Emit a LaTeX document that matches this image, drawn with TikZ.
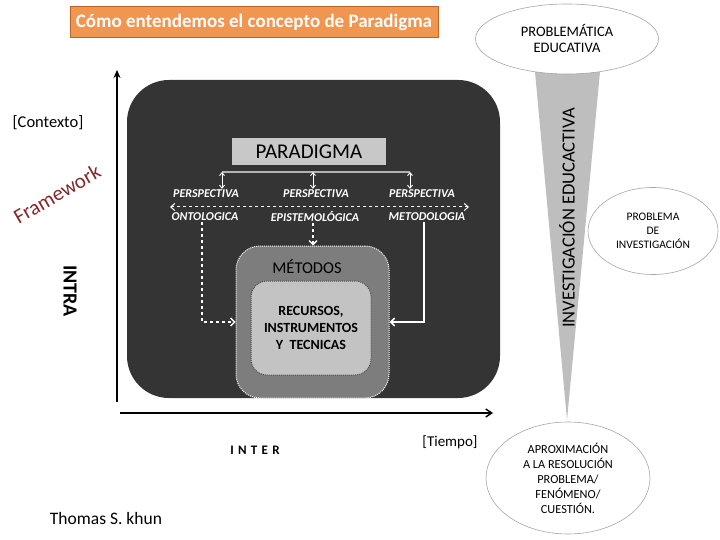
\documentclass[tikz,border=0pt]{standalone}
\usepackage{fontspec}
\setmainfont{Carlito}
\usetikzlibrary{arrows.meta,shapes.geometric}
\definecolor{titleor}{RGB}{240,150,80}
\definecolor{titleedge}{RGB}{190,100,40}
\definecolor{darkbox}{RGB}{52,52,52}
\definecolor{paragray}{RGB}{200,200,200}
\definecolor{metgray}{RGB}{125,125,125}
\definecolor{recgray}{RGB}{195,195,195}
\definecolor{fwred}{RGB}{130,40,40}
\definecolor{funnel}{RGB}{190,190,190}
\tikzset{
  persp/.style={text=white,font=\fontsize{12}{14}\selectfont\bfseries\itshape,inner sep=1pt},
  oval/.style={ellipse,draw=gray!70,fill=white,line width=0.6pt,align=center,inner sep=0pt},
}
\begin{document}
\begin{tikzpicture}[x=1pt,y=-1pt]
\useasboundingbox (0,0) rectangle (720,540);
% title
\node[draw=titleedge,fill=titleor,line width=1pt,minimum width=368pt,minimum height=31pt,text=white,font=\fontsize{19}{22}\selectfont\bfseries] (title) at (254,22.5) {Cómo entendemos el concepto de Paradigma};
% axes
\coordinate (o) at (117,402);
\coordinate (ytop) at (117,70);
\coordinate (xs) at (120,413);
\coordinate (xend) at (493,413);
\draw[line width=1.6pt,-{Stealth[length=8pt,width=7pt]}] (o) -- (ytop);
\draw[line width=1.4pt,-{Straight Barb[length=6pt,width=8pt]}] (xs) -- (xend);
% labels left
\node[font=\fontsize{16.5}{18}\selectfont] (ctx) at (48,123) {[Contexto]};
\node[text=fwred,rotate=30,font=\fontsize{21}{24}\selectfont] (fw) at (57,194) {Framework};
\node[rotate=-90,font=\fontsize{20}{22}\selectfont\bfseries] (intra) at (70,291) {INTRA};
\node[font=\fontsize{13}{16}\selectfont\bfseries] (inter) at (255,450) {I\,\,N\,\,T\,\,E\,\,R};
\node[font=\fontsize{15}{18}\selectfont] (tiempo) at (450,442) {[Tiempo]};
\node[font=\fontsize{17.5}{20}\selectfont] (thomas) at (106,518) {Thomas S. khun};
% dark box
\node[fill=darkbox,rounded corners=42pt,minimum width=373pt,minimum height=318pt,inner sep=0pt] (dark) at (313.5,239) {};
% paradigma
\node[fill=paragray,minimum width=154pt,minimum height=27pt,inner sep=0pt,font=\fontsize{21}{22}\selectfont] (para) at (309,151.5) {PARADIGMA};
\coordinate (b1) at (222,172);
\coordinate (b2) at (313,172);
\coordinate (b3) at (410,172);
\draw[draw=gray!60,line width=2pt] (b1) -- (b3);
\node[persp] (p1) at (206,194) {PERSPECTIVA};
\node[persp] (p2) at (316,194) {PERSPECTIVA};
\node[persp] (p3) at (422,194) {PERSPECTIVA};
\foreach \b/\p in {b1/p1,b2/p2,b3/p3}{
  \draw[white,line width=0.9pt,{Straight Barb[length=3pt,width=5pt]}-{Straight Barb[length=3pt,width=5pt]}] (\b) -- (\b |- \p.north);
}
\coordinate (dl) at (170,207);
\coordinate (dr) at (469,207);
\draw[white,line width=1pt,dashed,{Straight Barb[length=4pt,width=7pt]}-{Straight Barb[length=4pt,width=7pt]}] (dl) -- (dr);
\node[persp] (o1) at (205,217) {ONTOLOGICA};
\node[persp] (o2) at (315,217) {EPISTEMOLÓGICA};
\node[persp] (o3) at (427,217) {METODOLOGIA};
% metodos
\node[fill=metgray,draw=white,densely dotted,line width=1pt,rounded corners=24pt,minimum width=153pt,minimum height=152pt,inner sep=0pt] (met) at (312.5,322) {};
\node[font=\fontsize{16.5}{18}\selectfont] (mett) at (307,267) {MÉTODOS};
\node[fill=recgray,draw=black!70,densely dotted,line width=1pt,rounded corners=16pt,minimum width=120pt,minimum height=94pt,inner sep=0pt,align=center,font=\fontsize{14}{17}\selectfont\bfseries] (rec) at (311,328) {RECURSOS,\\INSTRUMENTOS\\Y\ \ TECNICAS};
% connectors
\coordinate (c1) at (202,322);
\coordinate (c3) at (424,322);
\draw[white,line width=1.3pt,dashed,-{Straight Barb[length=4pt,width=8pt]}] (o1.south -| c1) -- (c1) -- (met.west |- c1);
\draw[white,line width=1.3pt,dashed,-{Straight Barb[length=4pt,width=8pt]}] (o2.south -| 313,0) -- (met.north -| 313,0);
\draw[white,line width=1.6pt,-{Straight Barb[length=4pt,width=8pt]}] (o3.south -| c3) -- (c3) -- (met.east |- c3);
% funnel
\coordinate (ft1) at (535,72);
\coordinate (ft2) at (600,72);
\coordinate (tip) at (567,420);
\fill[funnel] (ft1) -- (ft2) -- (tip) -- cycle;
\node[rotate=90,font=\fontsize{18.5}{20}\selectfont] (inv) at (567,218) {INVESTIGACIÓN EDUCACTIVA};
% ellipses
\node[oval,minimum width=183pt,minimum height=70pt,font=\fontsize{14.5}{16}\selectfont] (e1) at (567,39) {PROBLEMÁTICA\\EDUCATIVA};
\node[oval,minimum width=130pt,minimum height=87pt,font=\fontsize{11.5}{14}\selectfont] (e2) at (653,231) {PROBLEMA\\DE\\INVESTIGACIÓN};
\node[oval,minimum width=164pt,minimum height=112pt,font=\fontsize{12.3}{15}\selectfont] (e3) at (568,478) {APROXIMACIÓN\\A LA RESOLUCIÓN\\PROBLEMA/\\FENÓMENO/\\CUESTIÓN.};
\end{tikzpicture}
\end{document}
